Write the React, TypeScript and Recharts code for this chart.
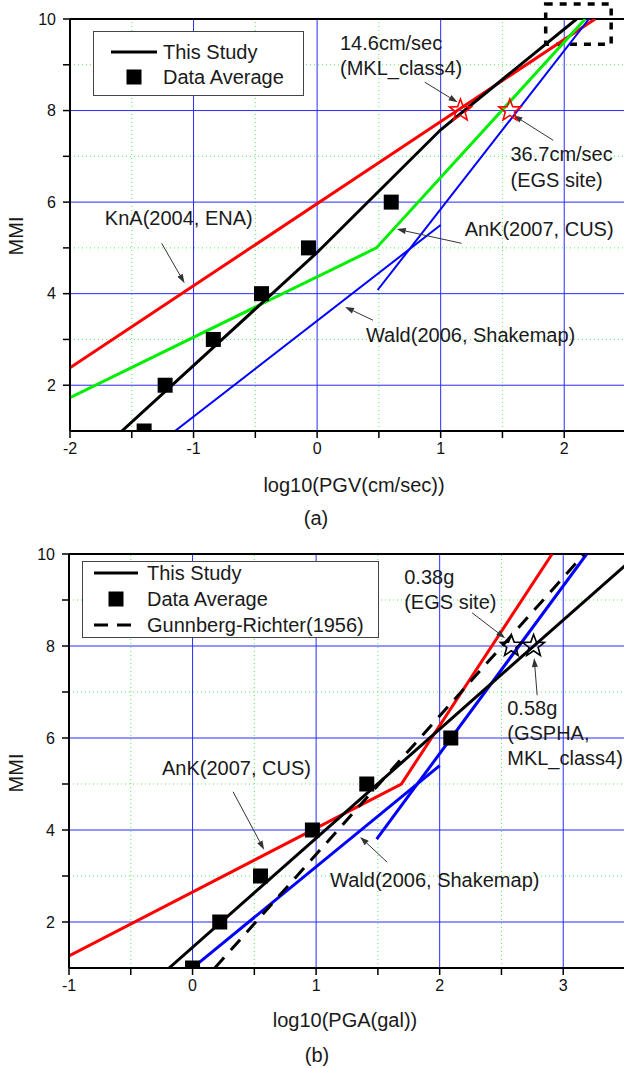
import React from 'react';
import {
  ComposedChart,
  Line,
  Scatter,
  XAxis,
  YAxis,
  ReferenceLine,
  ReferenceDot,
  ReferenceArea,
} from 'recharts';

const FONT = "'Liberation Sans', Arial, Helvetica, sans-serif";

// ---------- Panel (a): MMI vs log10(PGV) ----------
const thisStudyA = [
  { x: -1.58, y: 1 },
  { x: 0, y: 4.9 },
  { x: 1.0, y: 7.58 },
  { x: 2.1, y: 10 },
];
const avgA = [
  { x: -1.4, y: 1 },
  { x: -1.23, y: 2 },
  { x: -0.84, y: 3 },
  { x: -0.45, y: 4 },
  { x: -0.07, y: 5 },
  { x: 0.6, y: 6 },
];
const knaA = [
  { x: -2, y: 2.38 },
  { x: 2.25, y: 10 },
];
const ankA = [
  { x: -2, y: 1.73 },
  { x: 0.48, y: 5 },
  { x: 2.17, y: 10 },
];
const waldLowA = [
  { x: -1.15, y: 1 },
  { x: 1.0, y: 5.5 },
];
const waldHighA = [
  { x: 0.49, y: 4.08 },
  { x: 2.2, y: 10 },
];
const starsA = [
  { x: 1.16, y: 8 },
  { x: 1.56, y: 8 },
];
const xTicksA = [-2, -1.5, -1, -0.5, 0, 0.5, 1, 1.5, 2, 2.5];
const xMajorA = [-1, 0, 1, 2];
const xMinorA = [-1.5, -0.5, 0.5, 1.5];
const textsA = [
  { text: '14.6cm/sec', x: 0.185, y: 9.47 },
  { text: '(MKL_class4)', x: 0.185, y: 8.93 },
  { text: '36.7cm/sec', x: 1.565, y: 7.05 },
  { text: '(EGS site)', x: 1.565, y: 6.48 },
  { text: 'KnA(2004, ENA)', x: -1.718, y: 5.65 },
  { text: 'AnK(2007, CUS)', x: 1.194, y: 5.41 },
  { text: 'Wald(2006, Shakemap)', x: 0.395, y: 3.1 },
];
const arrowsA = [
  { x1: 0.871, y1: 8.62, x2: 1.137, y2: 8.18 },
  { x1: 1.911, y1: 7.35, x2: 1.589, y2: 7.9 },
  { x1: -1.258, y1: 5.1, x2: -1.073, y2: 4.23 },
  { x1: 1.169, y1: 5.1, x2: 0.645, y2: 5.41 },
  { x1: 0.452, y1: 3.42, x2: 0.226, y2: 3.71 },
];
const boxA = { x1: 1.85, x2: 2.38, y1: 9.45, y2: 10.33 };

// ---------- Panel (b): MMI vs log10(PGA) ----------
const thisStudyB = [
  { x: -0.19, y: 1 },
  { x: 3.5, y: 9.75 },
];
const avgB = [
  { x: 0, y: 1 },
  { x: 0.22, y: 2 },
  { x: 0.55, y: 3 },
  { x: 0.97, y: 4 },
  { x: 1.41, y: 5 },
  { x: 2.09, y: 6 },
];
const ankB = [
  { x: -1, y: 1.26 },
  { x: 1.69, y: 5.0 },
  { x: 2.91, y: 10 },
];
const waldLowB = [
  { x: 0.05, y: 1.11 },
  { x: 2.0, y: 5.4 },
];
const waldHighB = [
  { x: 1.49, y: 3.8 },
  { x: 3.19, y: 10 },
];
const grB = [
  { x: 0.18, y: 1 },
  { x: 3.17, y: 10 },
];
const starsB = [
  { x: 2.58, y: 8 },
  { x: 2.76, y: 8 },
];
const xTicksB = [-1, -0.5, 0, 0.5, 1, 1.5, 2, 2.5, 3, 3.5];
const xMajorB = [0, 1, 2, 3];
const xMinorB = [-0.5, 0.5, 1.5, 2.5];
const textsB = [
  { text: '0.38g', x: 1.713, y: 9.5 },
  { text: '(EGS site)', x: 1.713, y: 8.96 },
  { text: '0.58g', x: 2.547, y: 6.65 },
  { text: '(GSPHA,', x: 2.547, y: 6.11 },
  { text: 'MKL_class4)', x: 2.547, y: 5.57 },
  { text: 'AnK(2007, CUS)', x: -0.247, y: 5.35 },
  { text: 'Wald(2006, Shakemap)', x: 1.113, y: 2.91 },
];
const arrowsB = [
  { x1: 2.263, y1: 8.72, x2: 2.53, y2: 8.17 },
  { x1: 2.789, y1: 6.93, x2: 2.765, y2: 7.74 },
  { x1: 0.328, y1: 4.83, x2: 0.579, y2: 3.57 },
  { x1: 1.575, y1: 3.3, x2: 1.356, y2: 3.85 },
];

// ---------- shared ----------
const yTicks = [2, 3, 4, 5, 6, 7, 8, 9, 10];
const yMajor = [2, 4, 6, 8];
const yMinor = [3, 5, 7, 9];

const TEXT_SIZE = 20;

const squareShape = (p: any) => (
  <rect x={p.cx - 7.5} y={p.cy - 7.5} width={15} height={15} fill="#000" />
);

const makeStar = (color: string) => (p: any) => {
  const R = 11.5;
  const r = 4.8;
  const pts: string[] = [];
  for (let i = 0; i < 10; i++) {
    const a = -Math.PI / 2 + (i * Math.PI) / 5;
    const rad = i % 2 === 0 ? R : r;
    pts.push(`${p.cx + rad * Math.cos(a)},${p.cy + rad * Math.sin(a)}`);
  }
  return <polygon points={pts.join(' ')} fill="none" stroke={color} strokeWidth={1.6} />;
};

const arrowShape = (p: any) => {
  const { x1, y1, x2, y2 } = p;
  const ang = Math.atan2(y2 - y1, x2 - x1);
  const L = 9;
  const W = 3;
  const bx = x2 - L * Math.cos(ang);
  const by = y2 - L * Math.sin(ang);
  const px = -Math.sin(ang) * W;
  const py = Math.cos(ang) * W;
  return (
    <g>
      <line x1={x1} y1={y1} x2={bx} y2={by} stroke="#333" strokeWidth={1} />
      <polygon
        points={`${x2},${y2} ${bx + px},${by + py} ${bx - px},${by - py}`}
        fill="#333"
      />
    </g>
  );
};

const textShape = (label: string) => (p: any) => (
  <text
    x={p.cx}
    y={p.cy}
    fontFamily={FONT}
    fontSize={TEXT_SIZE}
    fill="#1a1a1a"
    dominantBaseline="central"
  >
    {label}
  </text>
);

type Series = { data: { x: number; y: number }[]; color: string; width: number; dash?: string };

function Panel(props: {
  xDomain: [number, number];
  xTicks: number[];
  xMajor: number[];
  xMinor: number[];
  yAxisWidth: number;
  rightMargin: number;
  height: number;
  series: Series[];
  avg: { x: number; y: number }[];
  stars: { x: number; y: number }[];
  starColor: string;
  texts: { text: string; x: number; y: number }[];
  arrows: { x1: number; y1: number; x2: number; y2: number }[];
  box?: { x1: number; x2: number; y1: number; y2: number };
}) {
  return (
    <ComposedChart
      width={640}
      height={props.height}
      margin={{ top: 19, right: props.rightMargin, bottom: 0, left: 0 }}
    >
      <XAxis
        type="number"
        dataKey="x"
        domain={props.xDomain}
        allowDataOverflow
        ticks={props.xTicks}
        interval={0}
        height={39}
        tickSize={7}
        tickMargin={5}
        tickFormatter={(v: number) => (Number.isInteger(v) ? String(v) : '')}
        tick={{ fontSize: 16, fill: '#111', fontFamily: FONT }}
        axisLine={{ stroke: '#000', strokeWidth: 2 }}
        tickLine={{ stroke: '#000', strokeWidth: 1.5 }}
      />
      <YAxis
        type="number"
        dataKey="y"
        domain={[1, 10]}
        allowDataOverflow
        ticks={yTicks}
        interval={0}
        width={props.yAxisWidth}
        tickSize={7}
        tickMargin={7}
        tickFormatter={(v: number) => (v % 2 === 0 ? String(v) : '')}
        tick={{ fontSize: 16, fill: '#111', fontFamily: FONT }}
        axisLine={{ stroke: '#000', strokeWidth: 2 }}
        tickLine={{ stroke: '#000', strokeWidth: 1.5 }}
      />
      {props.xMinor.map((v) => (
        <ReferenceLine key={'xm' + v} x={v} stroke="#55ee55" strokeWidth={1} strokeDasharray="1 3" />
      ))}
      {yMinor.map((v) => (
        <ReferenceLine key={'ym' + v} y={v} stroke="#55ee55" strokeWidth={1} strokeDasharray="1 3" />
      ))}
      {props.xMajor.map((v) => (
        <ReferenceLine key={'xM' + v} x={v} stroke="#2a2aff" strokeWidth={1} />
      ))}
      {yMajor.map((v) => (
        <ReferenceLine key={'yM' + v} y={v} stroke="#2a2aff" strokeWidth={1} />
      ))}
      <ReferenceLine y={10} stroke="#000" strokeWidth={2} />
      {props.series.map((s, i) => (
        <Line
          key={'s' + i}
          data={s.data}
          dataKey="y"
          type="linear"
          stroke={s.color}
          strokeWidth={s.width}
          strokeDasharray={s.dash}
          dot={false}
          activeDot={false}
          isAnimationActive={false}
        />
      ))}
      <Scatter data={props.avg} dataKey="y" shape={squareShape} isAnimationActive={false} />
      <Scatter
        data={props.stars}
        dataKey="y"
        shape={makeStar(props.starColor)}
        isAnimationActive={false}
      />
      {props.arrows.map((a, i) => (
        <ReferenceLine
          key={'a' + i}
          segment={[
            { x: a.x1, y: a.y1 },
            { x: a.x2, y: a.y2 },
          ]}
          shape={arrowShape}
          ifOverflow="visible"
        />
      ))}
      {props.texts.map((t, i) => (
        <ReferenceDot
          key={'t' + i}
          x={t.x}
          y={t.y}
          r={0}
          ifOverflow="visible"
          shape={textShape(t.text)}
        />
      ))}
      {props.box && (
        <ReferenceArea
          x1={props.box.x1}
          x2={props.box.x2}
          y1={props.box.y1}
          y2={props.box.y2}
          ifOverflow="visible"
          fill="none"
          fillOpacity={0}
          stroke="#000"
          strokeWidth={3.5}
          strokeDasharray="7 7"
        />
      )}
    </ComposedChart>
  );
}

function LegendBox(props: {
  left: number;
  top: number;
  width: number;
  height: number;
  rows: { kind: 'line' | 'square' | 'dash'; label: string; y: number }[];
  lineX1: number;
  lineX2: number;
  textX: number;
}) {
  const { left, top } = props;
  return (
    <g>
      <rect
        x={left + 0.5}
        y={top + 0.5}
        width={props.width}
        height={props.height}
        fill="#fff"
        stroke="#444"
        strokeWidth={1}
      />
      {props.rows.map((r, i) => (
        <g key={i}>
          {r.kind === 'line' && (
            <line x1={props.lineX1} x2={props.lineX2} y1={r.y} y2={r.y} stroke="#000" strokeWidth={3} />
          )}
          {r.kind === 'dash' && (
            <line
              x1={props.lineX1}
              x2={props.lineX2}
              y1={r.y}
              y2={r.y}
              stroke="#000"
              strokeWidth={3}
              strokeDasharray="14 9"
            />
          )}
          {r.kind === 'square' && (
            <rect
              x={(props.lineX1 + props.lineX2) / 2 - 7.5}
              y={r.y - 7.5}
              width={15}
              height={15}
              fill="#000"
            />
          )}
          <text
            x={props.textX}
            y={r.y}
            fontFamily={FONT}
            fontSize={TEXT_SIZE}
            fill="#1a1a1a"
            dominantBaseline="central"
          >
            {r.label}
          </text>
        </g>
      ))}
    </g>
  );
}

export default function App() {
  return (
    <div
      style={{
        position: 'absolute',
        left: 0,
        top: 0,
        width: 624,
        height: 1068,
        overflow: 'hidden',
        background: '#fff',
      }}
    >
      <div style={{ position: 'absolute', left: 0, top: 0 }}>
        <Panel
          xDomain={[-2, 2.5]}
          xTicks={xTicksA}
          xMajor={xMajorA}
          xMinor={xMinorA}
          yAxisWidth={70}
          rightMargin={14}
          height={470}
          series={[
            { data: knaA, color: '#ff0000', width: 3 },
            { data: ankA, color: '#00ee00', width: 3 },
            { data: waldLowA, color: '#0000ff', width: 2 },
            { data: waldHighA, color: '#0000ff', width: 2 },
            { data: thisStudyA, color: '#000000', width: 3 },
          ]}
          avg={avgA}
          stars={starsA}
          starColor="#ff0000"
          texts={textsA}
          arrows={arrowsA}
          box={boxA}
        />
      </div>
      <div style={{ position: 'absolute', left: 0, top: 535 }}>
        <Panel
          xDomain={[-1, 3.5]}
          xTicks={xTicksB}
          xMajor={xMajorB}
          xMinor={xMinorB}
          yAxisWidth={69}
          rightMargin={15}
          height={472}
          series={[
            { data: ankB, color: '#ff0000', width: 3 },
            { data: waldLowB, color: '#0000ff', width: 3 },
            { data: waldHighB, color: '#0000ff', width: 3 },
            { data: grB, color: '#000000', width: 3, dash: '14 10' },
            { data: thisStudyB, color: '#000000', width: 3 },
          ]}
          avg={avgB}
          stars={starsB}
          starColor="#000000"
          texts={textsB}
          arrows={arrowsB}
        />
      </div>
      <svg
        width={624}
        height={1068}
        style={{ position: 'absolute', left: 0, top: 0, pointerEvents: 'none' }}
      >
        <LegendBox
          left={93}
          top={31}
          width={210}
          height={64}
          lineX1={111}
          lineX2={157}
          textX={163}
          rows={[
            { kind: 'line', label: 'This Study', y: 52 },
            { kind: 'square', label: 'Data Average', y: 77 },
          ]}
        />
        <LegendBox
          left={82}
          top={561}
          width={296}
          height={76}
          lineX1={94}
          lineX2={138}
          textX={147}
          rows={[
            { kind: 'line', label: 'This Study', y: 573 },
            { kind: 'square', label: 'Data Average', y: 599 },
            { kind: 'dash', label: 'Gunnberg-Richter(1956)', y: 625 },
          ]}
        />
        <text
          x={16}
          y={236}
          transform="rotate(-90 16 236)"
          textAnchor="middle"
          dominantBaseline="central"
          fontFamily={FONT}
          fontSize={TEXT_SIZE}
          fill="#1a1a1a"
        >
          MMI
        </text>
        <text
          x={16}
          y={773}
          transform="rotate(-90 16 773)"
          textAnchor="middle"
          dominantBaseline="central"
          fontFamily={FONT}
          fontSize={TEXT_SIZE}
          fill="#1a1a1a"
        >
          MMI
        </text>
        <text x={354} y={485} textAnchor="middle" dominantBaseline="central" fontFamily={FONT} fontSize={TEXT_SIZE} fill="#1a1a1a">
          log10(PGV(cm/sec))
        </text>
        <text x={316} y={518} textAnchor="middle" dominantBaseline="central" fontFamily={FONT} fontSize={TEXT_SIZE} fill="#1a1a1a">
          (a)
        </text>
        <text x={345} y={1020} textAnchor="middle" dominantBaseline="central" fontFamily={FONT} fontSize={TEXT_SIZE} fill="#1a1a1a">
          log10(PGA(gal))
        </text>
        <text x={317} y={1055} textAnchor="middle" dominantBaseline="central" fontFamily={FONT} fontSize={TEXT_SIZE} fill="#1a1a1a">
          (b)
        </text>
      </svg>
    </div>
  );
}
